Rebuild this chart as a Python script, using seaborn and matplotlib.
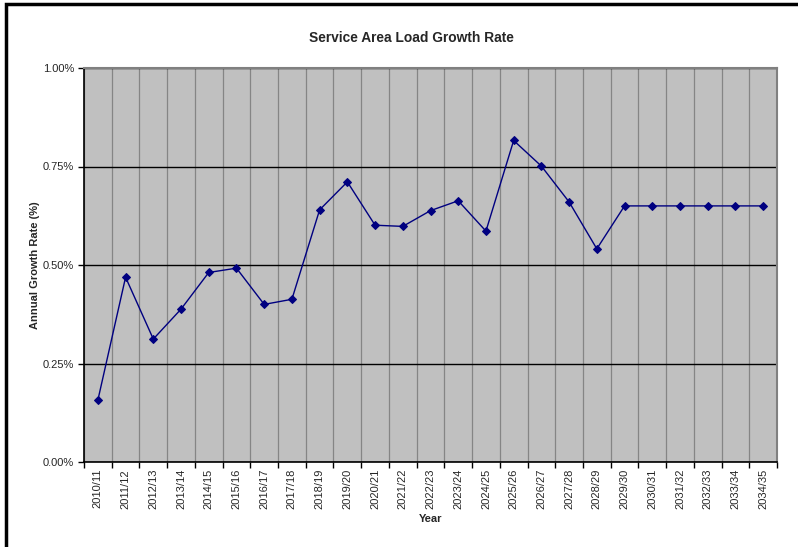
import matplotlib
matplotlib.use("Agg")
import matplotlib.pyplot as plt
import matplotlib.ticker as mticker
from matplotlib.patches import Rectangle
import numpy as np
import pandas as pd
import seaborn as sns

years = ["2010/11", "2011/12", "2012/13", "2013/14", "2014/15", "2015/16",
         "2016/17", "2017/18", "2018/19", "2019/20", "2020/21", "2021/22",
         "2022/23", "2023/24", "2024/25", "2025/26", "2026/27", "2027/28",
         "2028/29", "2029/30", "2030/31", "2031/32", "2032/33", "2033/34",
         "2034/35"]
growth_pct = [0.157, 0.469, 0.312, 0.388, 0.481, 0.492, 0.400, 0.413,
              0.640, 0.711, 0.601, 0.598, 0.638, 0.663, 0.586, 0.816,
              0.751, 0.660, 0.541, 0.650, 0.650, 0.650, 0.650, 0.650,
              0.650]
y_ticks = [0.0, 0.25, 0.50, 0.75, 1.00]

df = pd.DataFrame({"Year": years, "Rate": growth_pct})

sns.set_theme(style="white")
plt.rcParams["font.family"] = ["Liberation Sans", "DejaVu Sans"]

fig = plt.figure(figsize=(7.98, 5.47), dpi=100)
ax = fig.add_axes([84 / 798, 85 / 547, (777 - 84) / 798, (462 - 68) / 547])
ax.set_facecolor("#C0C0C0")

sns.lineplot(data=df, x="Year", y="Rate", ax=ax, color="#000080",
             linewidth=1.0, marker="D", markersize=4.5,
             markeredgecolor="#000080", markerfacecolor="#000080", sort=False)

n = len(years)
ax.set_xlim(-0.5, n - 0.5)
ax.set_ylim(0, 1.0)

# category labels at centres, gridlines and ticks on the boundaries
ax.set_xticks(np.arange(n))
ax.set_xticklabels(years, rotation=90, fontsize=8)
ax.set_xticks(np.arange(n + 1) - 0.5, minor=True)
ax.tick_params(axis="x", which="major", length=0, pad=5)
ax.tick_params(axis="x", which="minor", length=4, width=1, color="black",
               direction="out", bottom=True)
ax.grid(axis="x", which="minor", color="#858585", linewidth=0.9)
ax.grid(axis="x", which="major", visible=False)

ax.set_yticks(y_ticks)
ax.yaxis.set_major_formatter(mticker.FuncFormatter(lambda v, p: f"{v:.2f}%"))
ax.tick_params(axis="y", which="major", length=4, width=1, color="black",
               direction="out", left=True, labelsize=8, pad=3)
ax.grid(axis="y", which="major", color="black", linewidth=1.0)
ax.set_axisbelow(True)

for side in ("left", "bottom"):
    ax.spines[side].set_color("black")
    ax.spines[side].set_linewidth(1.2)
for side in ("top", "right"):
    ax.spines[side].set_color("#808080")
    ax.spines[side].set_linewidth(1.5)

ax.set_xlabel("Year", fontsize=8, fontweight="bold", labelpad=3)
ax.set_ylabel("Annual Growth Rate (%)", fontsize=8, fontweight="bold",
              labelpad=2)
fig.text(411 / 798, 1 - 38 / 547, "Service Area Load Growth Rate",
         ha="center", va="center", fontsize=9.9, fontweight="bold")

# chart frame
fig.patches.append(Rectangle((6 / 798, -0.1), 1.2, 1 - 4 / 547 + 0.1,
                             transform=fig.transFigure, fill=False,
                             edgecolor="black", linewidth=2.5))

fig.savefig("out.png", dpi=100, facecolor="white")
